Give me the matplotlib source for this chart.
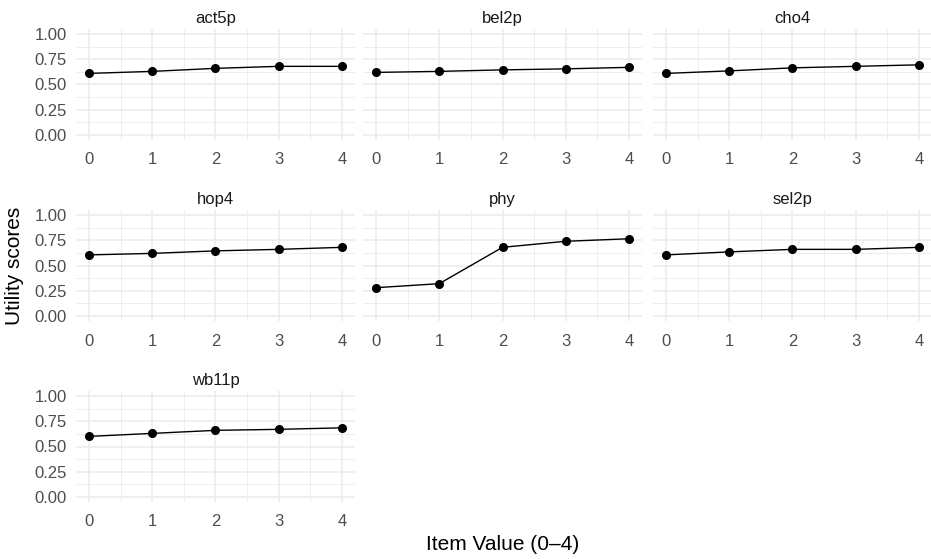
import matplotlib.pyplot as plt
from matplotlib.ticker import MultipleLocator

plt.rcParams["font.family"] = ["Liberation Sans", "DejaVu Sans"]

# Utility scores per item, for item values 0-4
item_values = [0, 1, 2, 3, 4]
items = ["act5p", "bel2p", "cho4", "hop4", "phy", "sel2p", "wb11p"]
act5p = [0.61, 0.63, 0.66, 0.68, 0.68]
bel2p = [0.62, 0.63, 0.645, 0.655, 0.67]
cho4 = [0.61, 0.635, 0.665, 0.68, 0.695]
hop4 = [0.605, 0.62, 0.645, 0.66, 0.68]
phy = [0.28, 0.32, 0.68, 0.74, 0.765]
sel2p = [0.605, 0.635, 0.66, 0.66, 0.68]
wb11p = [0.60, 0.63, 0.66, 0.67, 0.685]
scores = [act5p, bel2p, cho4, hop4, phy, sel2p, wb11p]

W, H = 931, 559
fig = plt.figure(figsize=(W / 100, H / 100), dpi=100)

col_left = [76.4, 363.4, 653.4]
col_width = 278.2
row_top = [29, 210, 391]
row_height = 111

grid_col = "#EBEBEB"
text_col = "#4D4D4D"

for k, (name, ys) in enumerate(zip(items, scores)):
    r, c = divmod(k, 3)
    left = col_left[c] / W
    bottom = 1 - (row_top[r] + row_height) / H
    ax = fig.add_axes([left, bottom, col_width / W, row_height / H])
    ax.set_xlim(-0.2, 4.2)
    ax.set_ylim(-0.05, 1.05)
    ax.xaxis.set_major_locator(MultipleLocator(1))
    ax.xaxis.set_minor_locator(MultipleLocator(0.5))
    ax.yaxis.set_major_locator(MultipleLocator(0.25))
    ax.yaxis.set_minor_locator(MultipleLocator(0.125))
    ax.grid(which="major", color=grid_col, linewidth=1.1)
    ax.grid(which="minor", color=grid_col, linewidth=0.6)
    ax.set_axisbelow(True)
    for s in ax.spines.values():
        s.set_visible(False)
    ax.tick_params(which="both", length=0, labelsize=12, labelcolor=text_col)
    ax.tick_params(axis="x", pad=9)
    ax.tick_params(axis="y", pad=7)
    ax.yaxis.set_major_formatter(lambda v, p: f"{v:.2f}")
    if c != 0:
        ax.set_yticklabels([])
    ax.plot(item_values, ys, color="black", linewidth=1.0,
            marker="o", markersize=5.5, zorder=3)
    ax.set_title(name, fontsize=12, color="#1A1A1A", pad=4)

fig.text(503 / W, 1 - 545 / H, "Item Value (0\u20134)", ha="center", va="center",
         fontsize=15, color="black")
fig.text(15 / W, 1 - 266 / H, "Utility scores", ha="center", va="center",
         rotation=90, fontsize=15, color="black")

fig.savefig("out.png", dpi=100, facecolor="white")
